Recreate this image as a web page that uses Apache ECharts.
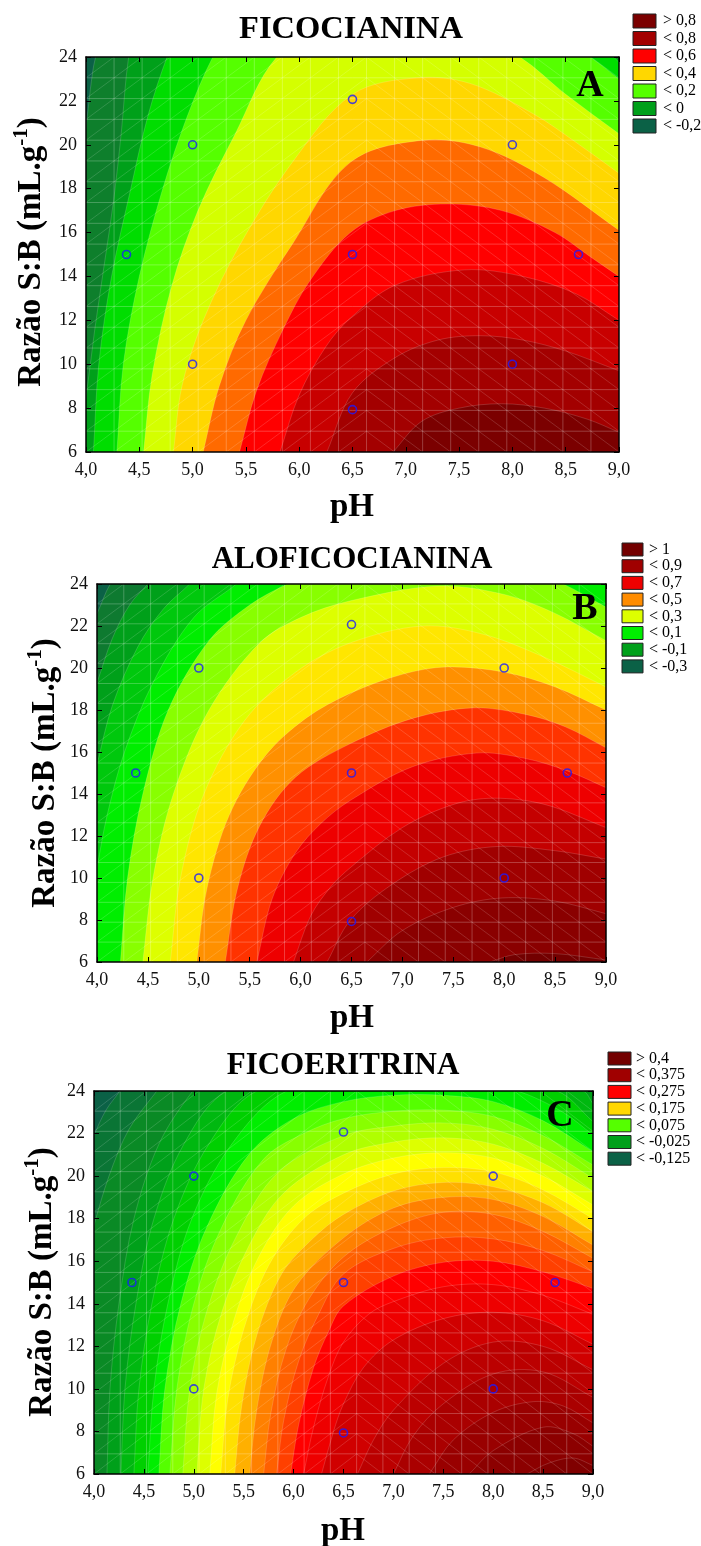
<!DOCTYPE html>
<html>
<head>
<meta charset="utf-8">
<script src="https://cdn.jsdelivr.net/npm/echarts@6/dist/echarts.min.js"></script>
<style>
  html, body { margin: 0; padding: 0; background: #fff; }
  #chart { width: 701px; height: 1546px; }
</style>
</head>
<body>
<div id="chart"></div>
<script>
// experimental design points (pH, S:B ratio) - same in the three plots
const designPH = [5.0, 5.0, 8.0, 8.0, 4.38, 8.62, 6.5, 6.5, 6.5];
const designRatio = [10, 20, 10, 20, 15, 15, 7.93, 22.07, 15];

const titles = ["FICOCIANINA", "ALOFICOCIANINA", "FICOERITRINA"];
const letters = ["A", "B", "C"];

// ---- A: ficocianina, contour lines (pH, ratio)
const levelsA = [-0.2, -0.1, 0, 0.1, 0.2, 0.3, 0.4, 0.5, 0.6, 0.7, 0.8];
const curvesA = [
  [[3.95, 19.5], [4.0, 20.8], [4.04, 22.5], [4.09, 24], [4.2, 25.5], [9, 30]],
  [[3.9, 5.5], [4.0, 8.5], [4.08, 11.5], [4.17, 14.5], [4.26, 17.5], [4.33, 20.5], [4.4, 24], [4.5, 26], [9, 32]],
  [[4.07, 6], [4.12, 10], [4.24, 14], [4.42, 18], [4.58, 21.3], [4.76, 24], [4.9, 25.5], [6.8, 28], [8.7, 25], [8.95, 24], [9.05, 23.5]],
  [[4.29, 6], [4.35, 10], [4.5, 14], [4.72, 18], [4.95, 21.3], [5.19, 24], [5.4, 25.5], [7.0, 27.5], [8.4, 25], [8.73, 24], [9.0, 23.0]],
  [[4.54, 6], [4.62, 9.5], [4.8, 13.5], [5.05, 17], [5.4, 20.5], [5.79, 24], [6.4, 26], [7.3, 26], [8.07, 24], [8.5, 22.3], [9.0, 20.5]],
  [[4.82, 6], [4.9, 9], [5.1, 12], [5.45, 15.5], [5.95, 19.3], [6.5, 22.3], [7.1, 23.05], [7.6, 22.8], [8.2, 21.4], [8.6, 20.1], [9.0, 18.7]],
  [[5.1, 6], [5.25, 9], [5.5, 12], [5.94, 15.5], [6.48, 19.2], [7.15, 20.2], [7.7, 19.9], [8.3, 18.5], [9.0, 16.1]],
  [[5.44, 6], [5.6, 8.8], [5.85, 11.6], [6.1, 13.8], [6.48, 16.0], [6.9, 17.0], [7.39, 17.3], [7.9, 17.0], [8.4, 16.0], [8.73, 14.9], [9.0, 14.0]],
  [[5.82, 6], [6.0, 8.6], [6.25, 10.8], [6.48, 12.1], [6.9, 13.6], [7.55, 14.3], [8.1, 14.0], [8.6, 13.2], [9.0, 12.0]],
  [[6.26, 6], [6.5, 8.7], [6.9, 10.3], [7.3, 11.1], [7.7, 11.3], [8.1, 11.1], [8.5, 10.6], [9.0, 9.7]],
  [[6.88, 6], [7.15, 7.4], [7.5, 8.0], [7.9, 8.2], [8.3, 8.0], [8.7, 7.5], [9.0, 6.9]]
];
const legendA = ["> 0,8", "< 0,8", "< 0,6", "< 0,4", "< 0,2", "< 0", "< -0,2"];

// ---- B: aloficocianina
const levelsB = [-0.3, -0.2, -0.1, 0, 0.1, 0.2, 0.3, 0.4, 0.5, 0.6, 0.7, 0.8, 0.9, 1.0];
const curvesB = [
  [[3.9, 21.8], [4.0, 22.6], [4.13, 24], [4.3, 25], [9, 35]],
  [[3.9, 18], [4.0, 19.3], [4.15, 21.4], [4.32, 23], [4.5, 24], [4.7, 25], [9, 35]],
  [[3.9, 13.5], [4.0, 15.4], [4.15, 18.2], [4.4, 21], [4.65, 22.8], [4.91, 24], [5.1, 25], [9, 35]],
  [[3.9, 8], [4.0, 10.5], [4.1, 13], [4.27, 16], [4.55, 19.3], [4.95, 22.4], [5.37, 24], [5.6, 25], [7.5, 28], [8.6, 26], [9.1, 24.5]],
  [[4.23, 6], [4.3, 10], [4.45, 14], [4.7, 18], [5.1, 21.3], [5.5, 23], [5.87, 24], [7.2, 27], [8.58, 24], [9.0, 22.9]],
  [[4.45, 6], [4.55, 10], [4.75, 14], [5.1, 18], [5.6, 21.2], [6.0, 22.4], [6.49, 23.2], [7.35, 23.9], [8.0, 23.5], [8.5, 22.6], [9.0, 21.3]],
  [[4.72, 6], [4.82, 10], [5.05, 14], [5.45, 17.5], [5.95, 19.8], [6.49, 21.2], [7.2, 22.0], [7.8, 21.6], [8.4, 20.5], [9.0, 19.1]],
  [[4.98, 6], [5.08, 9.5], [5.3, 13], [5.65, 15.8], [6.05, 17.6], [6.49, 18.8], [7.0, 19.7], [7.44, 20.05], [8.0, 19.8], [8.5, 19.1], [9.0, 18.0]],
  [[5.26, 6], [5.38, 9.5], [5.6, 12.5], [5.95, 14.8], [6.49, 16.4], [7.1, 17.6], [7.69, 18.1], [8.2, 17.8], [8.6, 17.2], [9.0, 16.2]],
  [[5.57, 6], [5.72, 9], [5.95, 11.2], [6.2, 12.6], [6.49, 13.7], [7.1, 15.3], [7.73, 15.95], [8.2, 15.7], [8.62, 15.1], [9.0, 14.3]],
  [[5.93, 6], [6.1, 8.2], [6.3, 9.6], [6.49, 10.5], [7.0, 12.4], [7.5, 13.5], [7.9, 13.8], [8.4, 13.5], [9.0, 12.4]],
  [[6.26, 6], [6.49, 8.0], [6.9, 9.7], [7.4, 11.0], [7.93, 11.5], [8.5, 11.3], [9.0, 10.9]],
  [[6.65, 6], [7.0, 7.5], [7.5, 8.6], [7.98, 9.05], [8.5, 8.9], [9.0, 8.3]],
  [[7.86, 6], [8.1, 6.35], [8.5, 6.4], [9.0, 6.1]]
];
const legendB = ["> 1", "< 0,9", "< 0,7", "< 0,5", "< 0,3", "< 0,1", "< -0,1", "< -0,3"];

// ---- C: ficoeritrina
const levelsC = [-0.125, -0.1, -0.075, -0.05, -0.025, 0, 0.025, 0.05, 0.075, 0.1, 0.125, 0.15,
  0.175, 0.2, 0.225, 0.25, 0.275, 0.3, 0.325, 0.35, 0.375, 0.4, 0.425, 0.45];
const curvesC = [
  [[3.9, 20.5], [4.0, 21.9], [4.12, 23.1], [4.26, 24], [4.4, 25], [9, 35]],
  [[3.9, 16], [4.0, 17.7], [4.15, 20], [4.35, 22.2], [4.63, 24], [4.8, 25], [9, 35]],
  [[4.13, 6], [4.16, 10], [4.25, 14], [4.4, 18], [4.65, 21.5], [4.99, 24], [5.3, 25.5], [9, 35]],
  [[4.27, 6], [4.31, 10], [4.42, 14], [4.6, 18], [4.9, 21.5], [5.33, 24], [7.0, 27], [8.9, 24], [9.0, 23.4]],
  [[4.4, 6], [4.45, 10], [4.58, 14], [4.8, 18], [5.15, 21.5], [5.63, 24], [7.1, 26], [8.64, 24], [9.0, 22.56]],
  [[4.54, 6], [4.6, 10], [4.74, 14], [4.98, 18], [5.38, 21.5], [5.93, 24], [7.1, 25.3], [8.24, 24], [8.7, 23], [9.0, 21.93]],
  [[4.65, 6], [4.71, 10], [4.87, 14], [5.13, 17.6], [5.55, 21.0], [6.0, 22.7], [6.5, 23.5], [7.0, 23.8], [7.5, 23.8], [8.0, 23.5], [8.5, 22.6], [9.0, 21.15]],
  [[4.76, 6], [4.83, 10], [5.0, 14], [5.28, 17.6], [5.7, 20.8], [6.1, 22.0], [6.5, 22.7], [7.0, 23.05], [7.5, 23.1], [8.0, 22.8], [8.5, 21.9], [9.0, 20.52]],
  [[4.89, 6], [4.96, 10], [5.14, 13.8], [5.43, 17.2], [5.85, 20.2], [6.5, 21.9], [7.0, 22.35], [7.5, 22.5], [8.0, 22.2], [8.5, 21.3], [9.0, 19.9]],
  [[5.03, 6], [5.1, 10], [5.28, 13.6], [5.55, 16.7], [5.9, 19.2], [6.5, 21.0], [7.0, 21.6], [7.5, 21.8], [8.0, 21.5], [8.5, 20.6], [9.0, 19.27]],
  [[5.16, 6], [5.23, 9.8], [5.4, 13.2], [5.65, 16.2], [6.0, 18.6], [6.5, 20.1], [7.0, 20.85], [7.5, 21.1], [8.0, 20.85], [8.5, 20.0], [9.0, 18.64]],
  [[5.27, 6], [5.34, 9.5], [5.5, 12.8], [5.75, 15.8], [6.1, 18.0], [6.5, 19.2], [7.0, 20.1], [7.5, 20.4], [8.0, 20.2], [8.5, 19.35], [9.0, 18.0]],
  [[5.41, 6], [5.48, 9.2], [5.63, 12.5], [5.88, 15.4], [6.2, 17.1], [6.5, 18.2], [7.0, 19.3], [7.5, 19.7], [8.0, 19.5], [8.5, 18.75], [9.0, 17.39]],
  [[5.56, 6], [5.63, 9.0], [5.78, 12.2], [6.02, 14.8], [6.5, 17.1], [7.0, 18.5], [7.5, 19.0], [8.0, 18.9], [8.5, 18.1], [9.0, 16.76]],
  [[5.7, 6], [5.77, 8.8], [5.92, 11.8], [6.15, 14.2], [6.5, 16.2], [7.0, 17.6], [7.5, 18.3], [8.0, 18.2], [8.5, 17.4], [9.0, 16.14]],
  [[5.83, 6], [5.9, 8.5], [6.05, 11.3], [6.25, 13.5], [6.5, 15.4], [7.0, 16.6], [7.5, 17.1], [8.0, 17.05], [8.5, 16.5], [9.0, 15.5]],
  [[5.97, 6], [6.05, 8.3], [6.2, 11.0], [6.35, 12.7], [6.5, 13.9], [7.0, 15.3], [7.5, 15.95], [8.0, 16.0], [8.5, 15.5], [9.0, 14.72]],
  [[6.1, 6], [6.2, 8.2], [6.35, 10.6], [6.5, 12.2], [6.75, 13.5], [7.0, 14.1], [7.5, 14.8], [8.0, 14.9], [8.5, 14.4], [9.0, 13.5]],
  [[6.28, 6], [6.4, 8.0], [6.5, 9.3], [6.7, 11.0], [7.0, 12.3], [7.5, 13.3], [8.0, 13.6], [8.5, 13.2], [9.0, 12.1]],
  [[6.64, 6], [6.8, 7.6], [7.0, 9.0], [7.5, 11.2], [8.0, 12.2], [8.5, 12.0], [9.0, 10.9]],
  [[7.0, 6], [7.2, 7.8], [7.5, 9.3], [8.0, 10.7], [8.5, 10.8], [9.0, 9.6]],
  [[7.36, 6], [7.6, 7.6], [8.0, 8.9], [8.4, 9.4], [8.7, 9.2], [9.0, 8.4]],
  [[7.76, 6], [8.0, 7.1], [8.5, 8.2], [8.8, 7.9], [9.0, 7.3]],
  [[8.34, 6], [8.55, 6.5], [8.8, 6.75], [9.0, 6.4]]
];
const legendC = ["> 0,4", "< 0,375", "< 0,275", "< 0,175", "< 0,075", "< -0,025", "< -0,125"];

// ---- styles
const bandsA = ["#0b6146", "#0e7f2c", "#00a01a", "#00dd00", "#55ff00", "#d4ff00", "#ffd700",
  "#ff6a00", "#ff0000", "#c80000", "#a30000", "#7b0000"];
const bandsB = ["#0b6146", "#0e7a30", "#00a01a", "#00c80d", "#00ee00", "#88ff00", "#ddff00",
  "#ffe600", "#ff9000", "#ff3300", "#ee0000", "#c40000", "#a00000", "#8a0000", "#730000"];
const bandsC = ["#0b6146", "#0a7535", "#0a8a25", "#00a01a", "#00b810", "#00d000", "#00ee00",
  "#55ff00", "#88ff00", "#b0ff00", "#ddff00", "#ffff00", "#ffe000", "#ffb000", "#ff8000",
  "#ff6000", "#ff4000", "#ff0000", "#ee0000", "#d00000", "#bb0000", "#aa0000", "#990000",
  "#8c0000", "#800000"];
const legendColorsA = ["#7b0000", "#a30000", "#ff0000", "#ffd700", "#55ff00", "#00a01a", "#0b6146"];
const legendColorsB = ["#730000", "#a00000", "#ee0000", "#ff8c00", "#ddff00", "#00ee00", "#00a01a", "#0b6146"];
const legendColorsC = ["#730000", "#a00000", "#ff0000", "#ffd700", "#55ff00", "#00a01a", "#0b6146"];

const SERIF = "'Liberation Serif', 'Times New Roman', serif";

const panels = [
  { box: [86, 57, 533, 395], curves: curvesA, bands: bandsA, titleSize: 32.5,
    legend: legendA, legendColors: legendColorsA, legendBox: [633, 14, 17.5, 23, 14], legendTextX: 663,
    titleXY: [351, 30], letterXY: [590, 86], phXY: [352, 507], yNameXY: [31, 252] },
  { box: [97, 584, 509, 378], curves: curvesB, bands: bandsB, titleSize: 31,
    legend: legendB, legendColors: legendColorsB, legendBox: [622, 543, 16.7, 21, 13], legendTextX: 649,
    titleXY: [352, 560], letterXY: [585, 609], phXY: [352, 1018], yNameXY: [45, 773] },
  { box: [94, 1091, 499, 383], curves: curvesC, bands: bandsC, titleSize: 31,
    legend: legendC, legendColors: legendColorsC, legendBox: [608, 1052, 16.7, 23, 13], legendTextX: 636,
    titleXY: [343, 1066], letterXY: [560, 1116], phXY: [343, 1531], yNameXY: [42, 1282] }
];

const commaFmt = v => v.toFixed(1).replace(".", ",");

// smooth path through pixel points: cubic segments, tangent taken from the
// neighbours, arm length a third of the segment (no overshoot on uneven spacing)
function smoothPath (px) {
  const n = px.length;
  const dir = i => {
    const a = px[Math.max(i - 1, 0)], b = px[Math.min(i + 1, n - 1)];
    const dx = b[0] - a[0], dy = b[1] - a[1], l = Math.hypot(dx, dy) || 1;
    return [dx / l, dy / l];
  };
  let d = "M" + px[0][0].toFixed(2) + "," + px[0][1].toFixed(2);
  for (let i = 0; i < n - 1; i++) {
    const p = px[i], q = px[i + 1];
    const len = Math.hypot(q[0] - p[0], q[1] - p[1]) / 3;
    const t0 = dir(i), t1 = dir(i + 1);
    d += " C" + (p[0] + t0[0] * len).toFixed(2) + "," + (p[1] + t0[1] * len).toFixed(2) +
      " " + (q[0] - t1[0] * len).toFixed(2) + "," + (q[1] - t1[1] * len).toFixed(2) +
      " " + q[0].toFixed(2) + "," + q[1].toFixed(2);
  }
  return d;
}

// one contour level: fill everything under the line, down to the x axis
function bandItem (pts, color) {
  return function (params, api) {
    if (params.dataIndex !== 0) return null;
    const px = pts.map(q => api.coord(q));
    const line = smoothPath(px);
    const e = api.coord([pts[pts.length - 1][0], 6]);
    const s = api.coord([pts[0][0], 6]);
    const close = " L" + e[0] + "," + (e[1] + 3) + " L" + s[0] + "," + (s[1] + 3) + " Z";
    return {
      type: "group",
      children: [
        { type: "path", shape: { pathData: line + close }, style: { fill: color, stroke: null } },
        { type: "path", shape: { pathData: line },
          style: { fill: null, stroke: "rgba(255,255,255,0.2)", lineWidth: 0.8 } }
      ]
    };
  };
}

// triangulated mesh of the fitted surface (19 x 19 cells)
function meshItem (params, api) {
  const kids = [];
  const straight = { stroke: "rgba(255,255,255,0.3)", lineWidth: 0.8 };
  const diag = { stroke: "rgba(255,255,255,0.22)", lineWidth: 0.7 };
  const seg = (a, b, style) => {
    const p = api.coord(a), q = api.coord(b);
    kids.push({ type: "line", shape: { x1: p[0], y1: p[1], x2: q[0], y2: q[1] }, style: style });
  };
  for (let i = 1; i < 19; i++) {
    seg([i, 0], [i, 19], straight);
    seg([0, i], [19, i], straight);
  }
  for (let i = 0; i < 19; i++) {
    for (let j = 0; j < 19; j++) {
      if (i <= 9) seg([i, j], [i + 1, j + 1], diag);
      else seg([i, j + 1], [i + 1, j], diag);
    }
  }
  return { type: "group", children: kids };
}

const grid = [], xAxis = [], yAxis = [], series = [], graphic = [];

panels.forEach((p, k) => {
  grid.push({ left: p.box[0], top: p.box[1], width: p.box[2], height: p.box[3],
    show: true, backgroundColor: p.bands[0], borderWidth: 0 });

  const frame = { show: true, onZero: false, lineStyle: { color: "#000", width: 1.5 } };
  const tick = { show: true, inside: true, length: 5, lineStyle: { color: "#000", width: 1 } };
  xAxis.push(
    { gridIndex: k, type: "value", min: 4, max: 9, interval: 0.5, position: "bottom", z: 6,
      axisLine: frame, axisTick: tick, splitLine: { show: false },
      axisLabel: { formatter: commaFmt, color: "#111", fontFamily: SERIF, fontSize: 18, margin: 9 } },
    { gridIndex: k, type: "value", min: 4, max: 9, interval: 0.5, position: "top", z: 6,
      axisLine: frame, axisTick: tick, splitLine: { show: false }, axisLabel: { show: false } },
    { gridIndex: k, type: "value", min: 0, max: 19, show: false }
  );
  yAxis.push(
    { gridIndex: k, type: "value", min: 6, max: 24, interval: 2, position: "left", z: 6,
      axisLine: frame, axisTick: tick, splitLine: { show: false },
      axisLabel: { color: "#111", fontFamily: SERIF, fontSize: 18, margin: 9 } },
    { gridIndex: k, type: "value", min: 6, max: 24, interval: 2, position: "right", z: 6,
      axisLine: frame, axisTick: tick, splitLine: { show: false }, axisLabel: { show: false } },
    { gridIndex: k, type: "value", min: 0, max: 19, show: false }
  );

  // filled contour bands, lowest level first
  p.curves.forEach((pts, i) => {
    series.push({
      type: "custom", xAxisIndex: 3 * k, yAxisIndex: 3 * k, data: pts,
      renderItem: bandItem(pts, p.bands[i + 1]), clip: true, silent: true, z: 2
    });
  });

  series.push({
    type: "custom", xAxisIndex: 3 * k + 2, yAxisIndex: 3 * k + 2, data: [[0, 0]],
    renderItem: meshItem, clip: true, silent: true, z: 3
  });

  series.push({
    type: "scatter", xAxisIndex: 3 * k, yAxisIndex: 3 * k,
    data: designPH.map((x, i) => [x, designRatio[i]]),
    symbol: "circle", symbolSize: 8, silent: true, z: 10,
    itemStyle: { color: "rgba(0,0,0,0)", borderColor: "#1a1aff", borderWidth: 1.6 }
  });

  // titles and labels
  graphic.push(
    { type: "text", x: p.titleXY[0], y: p.titleXY[1], z: 20,
      style: { text: titles[k], fontFamily: SERIF, fontWeight: "bold", fontSize: p.titleSize, fill: "#000",
        textAlign: "center", textVerticalAlign: "middle" } },
    { type: "text", x: p.letterXY[0], y: p.letterXY[1], z: 20,
      style: { text: letters[k], fontFamily: SERIF, fontWeight: "bold", fontSize: 38, fill: "#000",
        textAlign: "center", textVerticalAlign: "middle" } },
    { type: "text", x: p.phXY[0], y: p.phXY[1], z: 20,
      style: { text: "pH", fontFamily: SERIF, fontWeight: "bold", fontSize: 33, fill: "#000",
        textAlign: "center", textVerticalAlign: "middle" } },
    { type: "text", x: p.yNameXY[0], y: p.yNameXY[1], rotation: Math.PI / 2, z: 20,
      style: { text: "{a|Razão S:B (mL.g}{s|-1}{a|)}", textAlign: "center", textVerticalAlign: "middle",
        rich: {
          a: { fontFamily: SERIF, fontWeight: "bold", fontSize: 33, fill: "#000", lineHeight: 40 },
          s: { fontFamily: SERIF, fontWeight: "bold", fontSize: 21, fill: "#000", lineHeight: 40, verticalAlign: "top" }
        } } }
  );

  const [lx, ly, step, w, h] = p.legendBox;
  p.legend.forEach((lab, i) => {
    graphic.push(
      { type: "rect", z: 20, shape: { x: lx, y: ly + i * step, width: w, height: h },
        style: { fill: p.legendColors[i], stroke: "#222", lineWidth: 1 } },
      { type: "text", z: 20, x: p.legendTextX, y: ly + i * step + h / 2,
        style: { text: lab, fontFamily: SERIF, fontSize: 16, fill: "#000", textVerticalAlign: "middle" } }
    );
  });
});

const chart = echarts.init(document.getElementById("chart"), null, { renderer: "canvas" });
chart.setOption({
  animation: false,
  backgroundColor: "#fff",
  grid, xAxis, yAxis, series, graphic
});
window.addEventListener("resize", () => chart.resize());
</script>
</body>
</html>
